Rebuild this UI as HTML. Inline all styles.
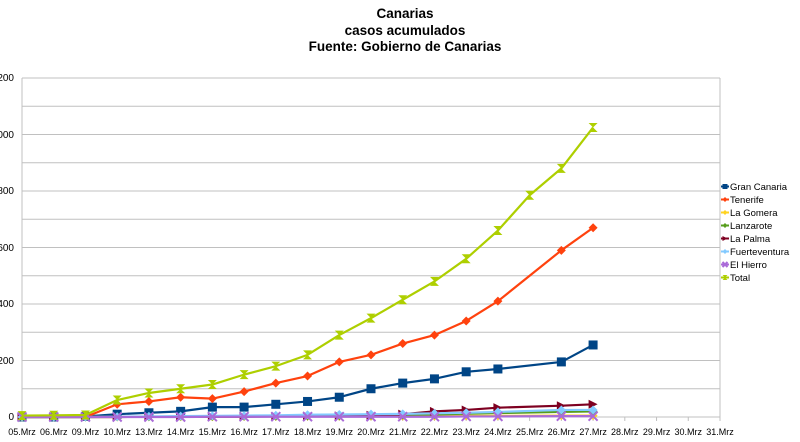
<!DOCTYPE html>
<html><head><meta charset="utf-8"><style>
html,body{margin:0;padding:0;background:#fff;width:800px;height:442px;overflow:hidden}
svg{display:block;font-family:"Liberation Sans",sans-serif}
</style></head><body>
<svg id="s" width="800" height="442" viewBox="0 0 800 442">
<g font-weight="bold" font-size="13.5" text-anchor="middle" fill="#000">
<text x="405" y="18">Canarias</text>
<text x="405" y="35">casos acumulados</text>
<text x="405" y="51">Fuente: Gobierno de Canarias</text>
</g>
<g id="grid" stroke="#c0c0c0" stroke-width="1"></g>
<g font-size="10" fill="#000" text-anchor="end">
<text x="14" y="81">200</text>
<text x="14" y="138">000</text>
<text x="14" y="194">800</text>
<text x="14" y="251">600</text>
<text x="14" y="307">400</text>
<text x="14" y="364">200</text>
<text x="14" y="420">0</text>
</g>
<g font-size="9" fill="#000" text-anchor="middle" id="xl">
<text x="22" y="435">05.Mrz</text><text x="53.7" y="435">06.Mrz</text><text x="85.5" y="435">09.Mrz</text><text x="117.2" y="435">10.Mrz</text><text x="148.9" y="435">13.Mrz</text><text x="180.6" y="435">14.Mrz</text><text x="212.4" y="435">15.Mrz</text><text x="244.1" y="435">16.Mrz</text><text x="275.8" y="435">17.Mrz</text><text x="307.6" y="435">18.Mrz</text><text x="339.3" y="435">19.Mrz</text><text x="371" y="435">20.Mrz</text><text x="402.8" y="435">21.Mrz</text><text x="434.5" y="435">22.Mrz</text><text x="466.2" y="435">23.Mrz</text><text x="497.9" y="435">24.Mrz</text><text x="529.7" y="435">25.Mrz</text><text x="561.4" y="435">26.Mrz</text><text x="593.1" y="435">27.Mrz</text><text x="624.8" y="435">28.Mrz</text><text x="656.6" y="435">29.Mrz</text><text x="688.3" y="435">30.Mrz</text><text x="720" y="435">31.Mrz</text>
</g>
<g id="series"></g>
<g font-size="9.5" fill="#000">
<text x="730" y="190">Gran Canaria</text>
<text x="730" y="203">Tenerife</text>
<text x="730" y="216">La Gomera</text>
<text x="730" y="229">Lanzarote</text>
<text x="730" y="242">La Palma</text>
<text x="730" y="255">Fuerteventura</text>
<text x="730" y="268">El Hierro</text>
<text x="730" y="281">Total</text>
</g>
<g id="leg"></g>
</svg>
<script>
var NS="http://www.w3.org/2000/svg";
function el(p,t,a){var e=document.createElementNS(NS,t);for(var k in a)e.setAttribute(k,a[k]);p.appendChild(e);return e;}
var g=document.getElementById('grid');
for(var v=0;v<=1200;v+=100){var y=417-0.2825*v;el(g,'line',{x1:22,x2:720,y1:y,y2:y});}
el(g,'line',{x1:22,x2:22,y1:78,y2:417});el(g,'line',{x1:720,x2:720,y1:78,y2:421});
for(var i=0;i<23;i++){var x=22+31.727*i;el(g,'line',{x1:x,x2:x,y1:417,y2:421});}
function X(i){return 22+31.727*i}function Y(v){return 417-0.2825*v}
var S=[
["#004586",[0,0,2,10,15,20,35,35,45,55,70,100,120,135,160,170,null,195,255],"sq"],
["#ff420e",[0,0,0,45,55,70,65,90,120,145,195,220,260,290,340,410,null,590,670],"di"],
["#ffd320",[0,0,0,0,1,1,1,2,2,3,3,3,3,3,4,4,null,5,5],"di"],
["#579d1c",[0,0,0,1,1,2,2,3,3,4,5,6,7,9,12,14,null,18,20],"di"],
["#7e0021",[0,0,0,0,1,1,1,1,2,3,4,6,10,20,25,33,null,40,45],"tr"],
["#83caff",[0,0,0,1,2,3,4,5,6,8,9,10,11,13,15,18,null,25,25],"di"],
["#aa6bd8",[0,0,0,0,0,0,1,1,1,1,1,1,1,1,2,2,null,3,3],"x"],
["#aecf00",[5,6,7,60,85,100,115,150,180,220,290,350,415,480,560,660,785,880,1025],"bt"]];
var sg=document.getElementById('series'),lg=document.getElementById('leg');
function mark(p,t,x,y,c,s){
 if(t=="sq")el(p,'rect',{x:x-s,y:y-s,width:2*s,height:2*s,fill:c});
 else if(t=="di")el(p,'polygon',{points:[x,y-s,x+s,y,x,y+s,x-s,y].join(' '),fill:c});
 else if(t=="tr")el(p,'polygon',{points:[x-s,y-s,x+s,y,x-s,y+s].join(' '),fill:c});
 else if(t=="x"){el(p,'path',{d:"M"+(x-s)+" "+(y-s)+"L"+(x+s)+" "+(y+s)+"M"+(x+s)+" "+(y-s)+"L"+(x-s)+" "+(y+s),stroke:c,'stroke-width':2});}
 else if(t=="bt")el(p,'polygon',{points:[x-s,y-s,x+s,y-s,x-s,y+s,x+s,y+s].join(' '),fill:c});
}
S.forEach(function(s,k){
 var pts=[];s[1].forEach(function(v,i){if(v!==null)pts.push([X(i),Y(v)]);});
 el(sg,'polyline',{points:pts.map(function(p){return p.join(',')}).join(' '),fill:'none',stroke:s[0],'stroke-width':2.2,'stroke-linejoin':'round'});
 pts.forEach(function(p){mark(sg,s[2],p[0],p[1],s[0],4.5)});
 var ly=186.5+13*k;
 el(lg,'line',{x1:721,x2:729,y1:ly,y2:ly,stroke:s[0],'stroke-width':2});
 mark(lg,s[2],725,ly,s[0],2.5);
});
</script>
</body></html>
